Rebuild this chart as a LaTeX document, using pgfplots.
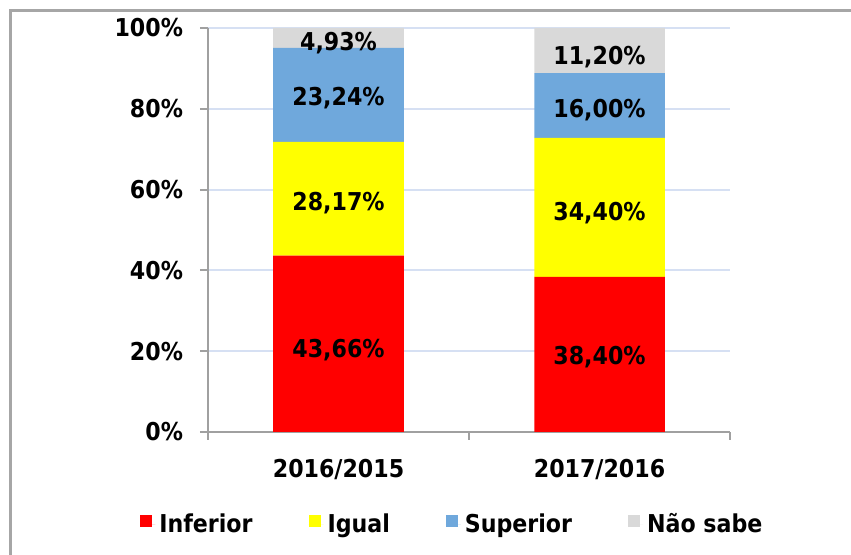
\documentclass[border=0pt]{standalone}
\usepackage{fontspec}
\setmainfont{DejaVu Sans Condensed}
\usepackage{pgfplots}
\usepackage{pgfplotstable}
\pgfplotsset{compat=1.18}
\definecolor{cRed}{HTML}{FF0000}
\definecolor{cYel}{HTML}{FFFF00}
\definecolor{cBlu}{HTML}{6FA8DC}
\definecolor{cGry}{HTML}{D9D9D9}
\definecolor{axgray}{HTML}{A0A0A0}
\definecolor{gridc}{HTML}{D6E0F3}
\definecolor{framec}{HTML}{A6A6A6}
\newcommand{\lf}{\fontsize{12.3}{14}\selectfont\bfseries}

\pgfplotstableread{
x Inferior Igual Superior NaoSabe
0 43.66 28.17 23.24 4.93
1 38.40 34.40 16.00 11.20
}\datatable

\pgfplotstableread{
x y label
0 20.3 43,66
0 56.7 28,17
0 82.7 23,24
0 96.2 4,93
1 18.6 38,40
1 54.2 34,40
1 79.7 16,00
1 92.8 11,20
}\labeltable

\begin{document}
\begin{tikzpicture}
\useasboundingbox (-104pt,-61.5pt) rectangle (321.5pt,216pt);
\draw[framec, line width=1.5pt] (-98.5pt,-61.5pt) -- (-98.5pt,210.5pt) -- (321.5pt,210.5pt);
\begin{axis}[
  at={(0,0)}, anchor=south west,
  scale only axis, width=261pt, height=202pt,
  ybar stacked, bar width=0.5,
  xmin=-0.5, xmax=1.5, ymin=0, ymax=100,
  axis lines*=left,
  axis line style={axgray, line width=1pt},
  xtick={-0.5,0.5,1.5}, xticklabels={},
  extra x ticks={0,1}, extra x tick labels={2016/2015,2017/2016},
  extra x tick style={major tick length=0pt, grid=none,
    xticklabel style={yshift=-10pt}},
  ytick={0,20,...,100},
  yticklabel={\pgfmathprintnumber{\tick}\%},
  yticklabel style={xshift=-5pt},
  ymajorgrids, grid style={gridc, line width=1pt},
  tick align=outside, major tick length=4pt,
  tick style={axgray, line width=1pt},
  tick label style={font=\lf},
  /pgf/number format/assume math mode=true,
  legend columns=4,
  legend style={at={(0.47,-0.23)}, anchor=center, draw=none, font=\lf,
    /tikz/every even column/.append style={column sep=26pt}},
  legend image code/.code={\fill[#1] (0pt,-1pt) rectangle (6pt,5pt);
    \path (0pt,0pt) -- (7.5pt,0pt);},
]
\addplot[fill=cRed, draw=none] table[x=x,y=Inferior]\datatable;
\addplot[fill=cYel, draw=none] table[x=x,y=Igual]\datatable;
\addplot[fill=cBlu, draw=none] table[x=x,y=Superior]\datatable;
\addplot[fill=cGry, draw=none] table[x=x,y=NaoSabe]\datatable;
\legend{Inferior, Igual, Superior, Não sabe}
\end{axis}
\begin{axis}[
  at={(0,0)}, anchor=south west,
  scale only axis, width=261pt, height=202pt,
  xmin=-0.5, xmax=1.5, ymin=0, ymax=100, hide axis]
\addplot[draw=none, mark=none, nodes near coords={\pgfplotspointmeta\%},
  point meta=explicit symbolic,
  every node near coord/.append style={anchor=center, font=\lf, text=black}]
  table[x=x,y=y,meta=label]\labeltable;
\end{axis}
\end{tikzpicture}
\end{document}
